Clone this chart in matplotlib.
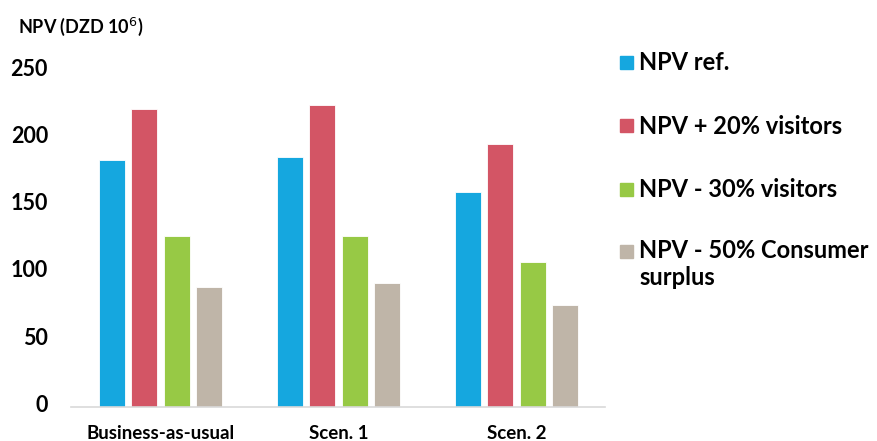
import matplotlib
matplotlib.use("Agg")
import matplotlib.pyplot as plt
import matplotlib.transforms as mtransforms
import numpy as np
from matplotlib.patches import Rectangle

categories = ["Business-as-usual", "Scen. 1", "Scen. 2"]
series_names = ["NPV ref.", "NPV + 20% visitors", "NPV - 30% visitors",
                "NPV - 50% Consumer\nsurplus"]
npv_ref = [183, 185.5, 159.5]
npv_plus20 = [221, 224, 195]
npv_minus30 = [127, 127, 107.5]
npv_minus50cs = [89, 92, 75.5]
yticks = [0, 50, 100, 150, 200, 250]
colors = ["#15A7DF", "#D35565", "#97C945", "#BFB5A8"]

plt.rcParams['font.family'] = ['Lato', 'DejaVu Sans']

W, H = 878, 441
fig = plt.figure(figsize=(W / 100, H / 100), dpi=100)
y0, y250 = 406.5, 70.0
ax = fig.add_axes([71.5 / W, (H - y0) / H, (605.5 - 71.5) / W, (y0 - y250) / H])

x = np.arange(len(categories))
width = 0.146
step = 0.1815
all_series = [npv_ref, npv_plus20, npv_minus30, npv_minus50cs]
for i, (vals, c) in enumerate(zip(all_series, colors)):
    ax.bar(x + (i - 1.5) * step, vals, width, color=c, edgecolor="white",
           linewidth=0.6)

ax.set_xlim(-0.5, 2.5)
ax.set_ylim(0, 250)
ax.set_yticks(yticks)
ax.set_yticklabels([str(t) for t in yticks], fontsize=15.5, fontweight="bold")
ax.set_xticks(x)
ax.set_xticklabels(categories, fontsize=13.5, fontweight="bold")
for s in ["top", "right", "left"]:
    ax.spines[s].set_visible(False)
ax.spines["bottom"].set_color("#D9D9D9")
ax.spines["bottom"].set_linewidth(1.2)
ax.tick_params(axis="both", length=0)
ax.tick_params(axis="y", pad=17)
ax.tick_params(axis="x", pad=13)
off = mtransforms.ScaledTranslation(0, 3 / 100, fig.dpi_scale_trans)
for lab in ax.get_yticklabels():
    lab.set_transform(lab.get_transform() + off)

fig.text(18 / W, 1 - 27 / H, "NPV (DZD 10$^{6}$)", fontsize=13, fontweight="bold",
         va="center", ha="left")

# legend
rows_y = [63, 126, 190, 252]
for name, c, ry in zip(series_names, colors, rows_y):
    fig.patches.append(Rectangle((620 / W, 1 - (ry + 6) / H), 13 / W, 13 / H,
                                 transform=fig.transFigure, color=c))
    if "\n" in name:
        fig.text(639 / W, 1 - (ry - 13) / H, name, fontsize=17, fontweight="bold",
                 va="top", ha="left", linespacing=1.2)
    else:
        fig.text(639 / W, 1 - ry / H, name, fontsize=17, fontweight="bold",
                 va="center", ha="left")

fig.savefig("out.png", dpi=100)
